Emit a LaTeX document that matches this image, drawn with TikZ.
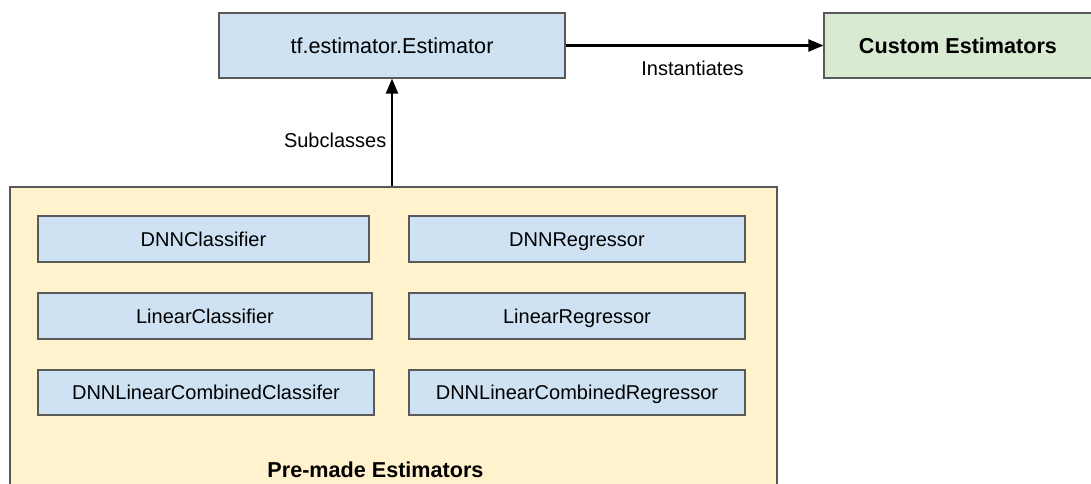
\documentclass[tikz,border=0pt]{standalone}
\usepackage{fontspec}
\setmainfont{Liberation Sans}
\usetikzlibrary{arrows.meta}
\definecolor{boxblue}{HTML}{CFE2F3}
\definecolor{boxgreen}{HTML}{D9EAD3}
\definecolor{boxyellow}{HTML}{FFF2CC}
\definecolor{edgegray}{HTML}{595959}
\tikzset{
  regular/.style={font=\fontsize{20}{24}\selectfont, text height=14.3pt, text depth=0pt},
  large/.style={font=\fontsize{21.6}{26}\selectfont, text height=15.5pt, text depth=0pt},
  largebold/.style={font=\fontsize{21.6}{26}\selectfont\bfseries, text height=15.5pt, text depth=0pt},
  box/.style={draw=edgegray, line width=1.2pt, inner sep=0pt, anchor=center, regular},
  classbox/.style={box, fill=boxblue},
  link/.style={line width=2.2pt, -{Triangle[length=15pt,width=12pt]}},
  lbl/.style={inner sep=0pt, regular},
}
\begin{document}
\begin{tikzpicture}[x=1pt, y=-1pt]
\useasboundingbox (0,0) rectangle (1091,483);

% base class and custom estimators
\node[classbox, large, minimum width=346pt, minimum height=65pt] (est) at (392,45.5) {tf.estimator.Estimator};
\node[box, largebold, fill=boxgreen, minimum width=268pt, minimum height=65pt] (custom) at (958,45.5) {Custom Estimators};

% container of the pre-made estimators
\node[box, fill=boxyellow, minimum width=767pt, minimum height=313pt] (premade) at (393.5,343.5) {};
\node[lbl, largebold] (premadelbl) at (375.5,469.5) {Pre-made Estimators};

% classifiers
\node[classbox, minimum width=331pt, minimum height=46pt] (dnnc) at (203.5,239) {DNNClassifier};
\node[classbox, minimum width=334pt, minimum height=46pt] (linc) at (205,316) {LinearClassifier};
\node[classbox, minimum width=336pt, minimum height=45pt] (combc) at (206,392.5) {DNNLinearCombinedClassifer};

% regressors
\node[classbox, minimum width=336pt, minimum height=46pt] (dnnr) at (577,239) {DNNRegressor};
\node[classbox, minimum width=336pt, minimum height=46pt] (linr) at (577,316) {LinearRegressor};
\node[classbox, minimum width=336pt, minimum height=45pt] (combr) at (577,392.5) {DNNLinearCombinedRegressor};

% relations
\draw[link] (est.south |- premade.north) -- (est.south);
\node[lbl, anchor=east] (sublbl) at (386.5,140) {Subclasses};
\draw[link] (est.east) -- (custom.west);
\node[lbl] (instlbl) at (692.5,68.5) {Instantiates};
\end{tikzpicture}
\end{document}
